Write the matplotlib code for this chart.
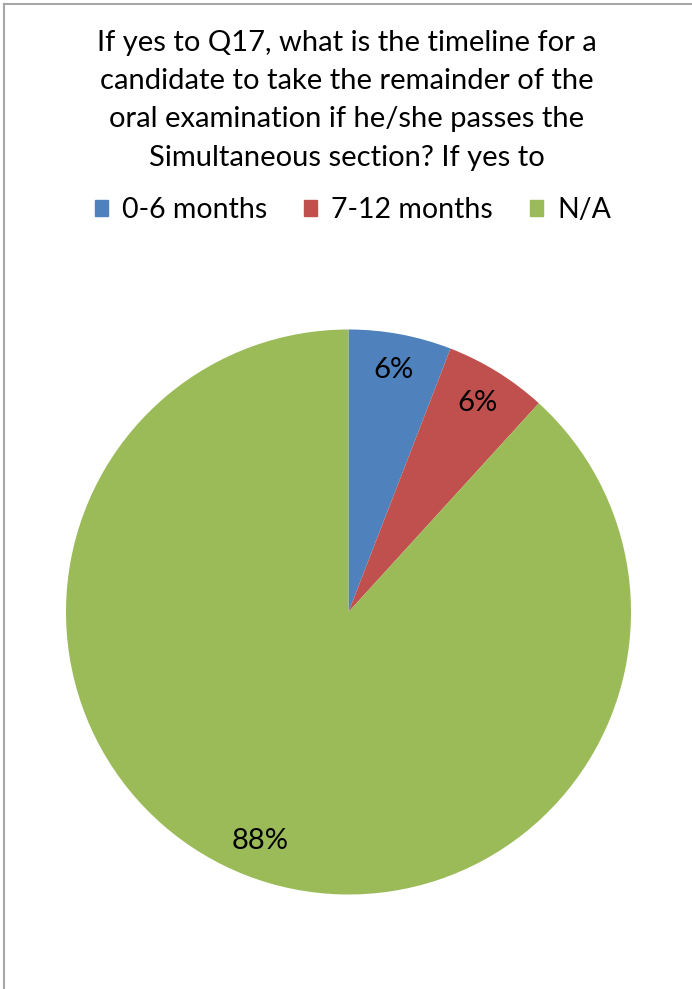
import matplotlib.pyplot as plt
import matplotlib.patches as mpatches

plt.rcParams["font.family"] = ["Lato", "DejaVu Sans"]

# dane z wykresu
labels = ["0-6 months", "7-12 months", "N/A"]
counts = [1, 1, 15]
pct_labels = ["6%", "6%", "88%"]
colors = ["#4F81BD", "#C0504D", "#9BBB59"]

title = ("If yes to Q17, what is the timeline for a\n"
         "candidate to take the remainder of the\n"
         "oral examination if he/she passes the\n"
         "Simultaneous section? If yes to")

W, H = 692, 989
fig = plt.figure(figsize=(W / 100, H / 100), dpi=100)
fig.patch.set_facecolor("white")

# ramka (widoczna tylko gora i lewa strona)
fig.add_artist(plt.Line2D([3.5 / W, 3.5 / W], [0, 1 - 3.5 / H], color="#A6A6A6", lw=1.5))
fig.add_artist(plt.Line2D([3.5 / W, 1], [1 - 3.5 / H, 1 - 3.5 / H], color="#A6A6A6", lw=1.5))

# os kola: srodek (348, 612), promien ~282
cx, cy, r = 348.5, 612, 282.5
ax = fig.add_axes([(cx - r) / W, 1 - (cy + r) / H, 2 * r / W, 2 * r / H])
wedges, texts = ax.pie(counts, colors=colors, startangle=90, counterclock=False,
                       labels=pct_labels, labeldistance=0.87, radius=1)
for t in texts:
    t.set_ha("center")
    t.set_va("center")
    t.set_fontsize(21)
    t.set_color("black")
ax.set_xlim(-1, 1)
ax.set_ylim(-1, 1)
ax.set_aspect("equal")
ax.axis("off")

fig.text(347 / W, 1 - 30 / H, title, ha="center", va="top",
         fontsize=21, linespacing=1.58, color="black")

handles = [mpatches.Patch(color=c, label=l) for c, l in zip(colors, labels)]
fig.legend(handles=handles, loc="center", bbox_to_anchor=(353 / W, 1 - 210 / H), ncol=3,
           frameon=False, fontsize=20.5, handlelength=0.45, handleheight=0.45,
           handletextpad=0.5, columnspacing=1.3, borderpad=0, borderaxespad=0)

plt.savefig("out.png", dpi=100, facecolor="white")
